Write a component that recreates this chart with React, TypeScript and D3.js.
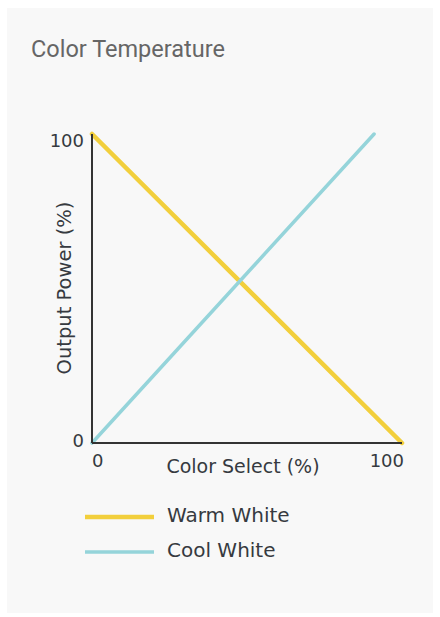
import React from "react";
import * as d3 from "d3";

const title = "Color Temperature";
const seriesNames = ["Warm White", "Cool White"];
const seriesColors = ["#f2cf3c", "#95d4da"];
const warmX = [0, 100];
const warmY = [100, 0];
const coolX = [0, 91];
const coolY = [0, 100];
const xTicks = [0, 100];
const yTicks = [0, 100];
const xLabel = "Color Select (%)";
const yLabel = "Output Power (%)";

export default function App() {
  const W = 440, H = 617;
  const x = d3.scaleLinear().domain([0, 100]).range([92, 402]);
  const y = d3.scaleLinear().domain([0, 100]).range([443, 134]);
  const line = d3.line<[number, number]>().x(d => x(d[0])).y(d => y(d[1]));
  const warm = warmX.map((v, i) => [v, warmY[i]] as [number, number]);
  const cool = coolX.map((v, i) => [v, coolY[i]] as [number, number]);
  const font = "'DejaVu Sans', sans-serif";
  const txt = "#363a40";
  return (
    <svg width={W} height={H} style={{ position: "absolute", left: 0, top: 0 }}>
      <rect x={0} y={0} width={W} height={H} fill="#ffffff" />
      <rect x={7} y={8} width={426} height={605} fill="#f8f8f8" />
      <text x={31} y={57} fontFamily="Roboto, sans-serif" fontSize={23.5} fill="#666">{title}</text>
      <path d={line(warm) || ""} stroke={seriesColors[0]} strokeWidth={4.5} fill="none" strokeLinecap="round" />
      <path d={line(cool) || ""} stroke={seriesColors[1]} strokeWidth={3.5} fill="none" strokeLinecap="round" />
      <line x1={x(0)} x2={x(0)} y1={y(100)} y2={y(0)} stroke="#333" strokeWidth={2} />
      <line x1={x(0)} x2={x(100)} y1={y(0)} y2={y(0)} stroke="#333" strokeWidth={2} />
      {yTicks.map(t => (
        <text key={"y" + t} x={84} y={y(t) + (t === 100 ? 13 : 4)} textAnchor="end" fontFamily={font} fontSize={18} fill={txt}>{t}</text>
      ))}
      {xTicks.map(t => (
        <text key={"x" + t} x={t === 0 ? x(0) : 404} y={467} textAnchor={t === 0 ? "start" : "end"} fontFamily={font} fontSize={18} fill={txt}>{t}</text>
      ))}
      <text x={243} y={473} textAnchor="middle" fontFamily={font} fontSize={19} fill={txt}>{xLabel}</text>
      <text transform={`translate(71,288) rotate(-90)`} textAnchor="middle" fontFamily={font} fontSize={19.5} fill={txt}>{yLabel}</text>
      {seriesNames.map((n, i) => (
        <g key={n} transform={`translate(0,${517 + i * 35})`}>
          <line x1={85} x2={154} y1={0} y2={0} stroke={seriesColors[i]} strokeWidth={i === 0 ? 4.5 : 3.5} />
          <text x={167} y={5} fontFamily={font} fontSize={20} fill={txt}>{n}</text>
        </g>
      ))}
    </svg>
  );
}
